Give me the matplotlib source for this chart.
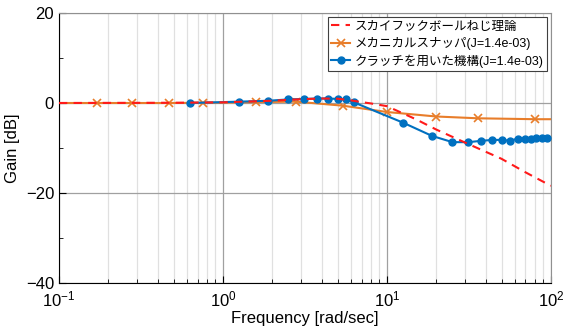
import matplotlib
matplotlib.use("Agg")
import matplotlib.pyplot as plt
from matplotlib.ticker import FixedLocator

plt.rcParams['font.family'] = ['Liberation Sans', 'Noto Sans CJK JP', 'DejaVu Sans']
plt.rcParams['axes.unicode_minus'] = True

# スカイフックボールねじ理論
theory_w = [0.1, 0.5, 1, 2, 3, 4, 5, 6, 7, 8, 10, 15, 20, 30, 50, 70, 100]
theory_db = [0, 0.05, 0.15, 0.5, 0.85, 1.0, 0.95, 0.6, 0.2, -0.1, -0.7,
             -3.6, -5.9, -8.8, -12.4, -15.4, -18.4]

# メカニカルスナッパ
snub_w = [0.1, 0.17, 0.28, 0.47, 0.76, 1.6, 2.8, 5.4, 10, 20, 36, 80, 100]
snub_db = [0, 0, 0, 0, 0.05, 0.2, 0.3, -0.6, -2.0, -3.0, -3.4, -3.6, -3.6]

# クラッチを用いた機構
clutch_w = [0.63, 1.26, 1.89, 2.51, 3.14, 3.77, 4.40, 5.03, 5.65, 6.28,
            12.6, 18.8, 25.1, 31.4, 37.7, 44.0, 50.3, 56.5, 62.8, 69.1,
            75.4, 81.7, 88.0, 94.2]
clutch_db = [0.0, 0.3, 0.5, 0.8, 0.9, 1.0, 1.0, 0.9, 0.8, 0.15,
             -4.4, -7.3, -8.7, -8.7, -8.4, -8.2, -8.2, -8.4, -7.9, -8.0,
             -7.9, -7.8, -7.8, -7.7]

fig = plt.figure(figsize=(5.65, 3.3), dpi=100)
ax = fig.add_axes([0.1044, 0.1424, 0.8706, 0.8182])

ax.semilogx(theory_w, theory_db, '--', color='#FF1A1A', lw=1.5,
            dashes=(4, 3), label='スカイフックボールねじ理論', zorder=4)
ax.semilogx(snub_w, snub_db, '-', color='#E87D2A', lw=1.5, marker='x',
            ms=6, mew=1.2, markevery=list(range(1, 12)),
            label='メカニカルスナッパ(J=1.4e-03)', zorder=3)
ax.semilogx(clutch_w, clutch_db, '-', color='#0070C0', lw=1.5, marker='o',
            ms=5, label='クラッチを用いた機構(J=1.4e-03)', zorder=3)

ax.set_xlim(0.1, 100)
ax.set_ylim(-40, 20)
ax.set_yticks([-40, -20, 0, 20])
ax.yaxis.set_minor_locator(FixedLocator([-30, -10, 10]))

ax.grid(True, which='major', color='#A0A0A0', lw=0.9)
ax.grid(True, which='minor', axis='x', color='#E0E0E0', lw=0.9)
ax.tick_params(which='both', direction='in', labelsize=12, top=False, right=False)
ax.tick_params(which='major', length=5)
ax.tick_params(which='minor', length=3)
ax.tick_params(axis='x', which='major', pad=5)
for s in ['top', 'right']:
    ax.spines[s].set_color('#909090')

ax.set_xlabel('Frequency [rad/sec]', fontsize=12, labelpad=1)
ax.set_ylabel('Gain [dB]', fontsize=12)

leg = ax.legend(loc='upper right', fontsize=9, fancybox=False,
                framealpha=1, edgecolor='#404040', borderaxespad=0.3,
                handlelength=1.5, handletextpad=0.35, labelspacing=0.35,
                borderpad=0.3)
leg.get_frame().set_linewidth(0.8)

fig.savefig('out.png', dpi=100)
